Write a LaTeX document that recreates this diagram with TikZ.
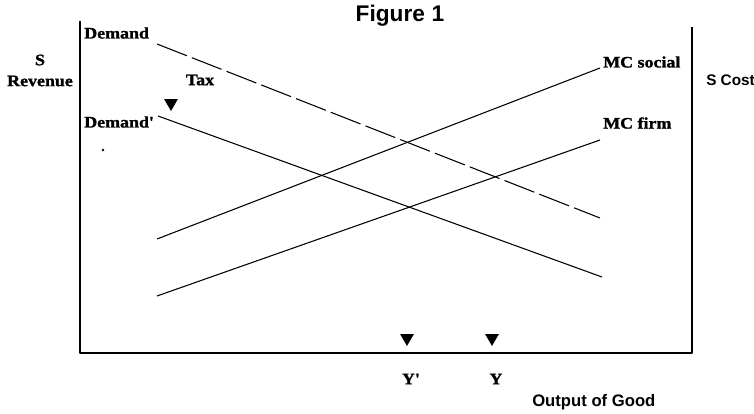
\documentclass[tikz,border=0pt]{standalone}
\usepackage{fontspec}
\setmainfont{Liberation Serif}
\newfontfamily\scanfont{Liberation Serif}[FakeStretch=1.12, BoldFeatures={FakeBold=1.3}]
\newfontfamily\headfont{Liberation Sans}
\usetikzlibrary{shapes.geometric}

\begin{document}
\begin{tikzpicture}[
  x=0.75pt, y=-0.75pt,
  lbl/.style={inner sep=0pt, font=\scanfont\bfseries\fontsize{12}{14}\selectfont},
  head/.style={inner sep=0pt, font=\headfont\bfseries\fontsize{12.5}{15}\selectfont},
  axis/.style={line width=2pt, line join=round},
  curve/.style={line width=0.8pt},
  marker/.style={regular polygon, regular polygon sides=3, shape border rotate=180, fill=black, inner sep=0pt, minimum size=12pt}
]
\useasboundingbox (0,0) rectangle (754,414);
\coordinate (lt) at (80,21);
\coordinate (o) at (80,353);
\coordinate (rb) at (692,353);
\coordinate (rt) at (692,27);
\draw[axis] (lt) -- (o) -- (rb) -- (rt);

\coordinate (dA) at (157,44);
\coordinate (dB) at (600,218);
\coordinate (tA) at (158,116);
\coordinate (tB) at (602,277);
\coordinate (sA) at (157,239);
\coordinate (sB) at (600,68);
\coordinate (fA) at (157,296);
\coordinate (fB) at (600,140);
\draw[curve, dash pattern=on 24pt off 4pt] (dA) -- (dB);
\draw[curve] (tA) -- (tB);
\draw[curve] (sA) -- (sB);
\draw[curve] (fA) -- (fB);

\node[head, font=\headfont\bfseries\fontsize{17}{19}\selectfont] (title) at (400,16) {Figure\hspace{5pt}1};
\node[lbl] (dollar) at (40,60) {S};
\node[lbl] (rev) at (40,81) {Revenue};
\node[lbl, anchor=west] (dem) at (84,33) {Demand};
\node[lbl, anchor=west] (demtax) at (84,122) {Demand'};
\node[lbl] (tax) at (200,80) {Tax};
\node[marker] (taxmk) at (171,103) {};
\node[circle, fill, inner sep=0pt, minimum size=2pt] (dot) at (103,150) {};
\node[lbl, anchor=west] (mcs) at (603,62) {MC social};
\node[lbl, anchor=west] (mcf) at (603,123) {MC firm};
\node[head, font=\headfont\bfseries\fontsize{11.5}{13}\selectfont, anchor=west] (cost) at (706,80) {S Cost};
\node[marker] (ypmk) at (407,338) {};
\node[marker] (ymk) at (492,338) {};
\node[lbl] (yp) at (411,379) {Y'};
\node[lbl] (y) at (496,379) {Y};
\node[head, anchor=west] (out) at (532,402) {Output of Good};
\end{tikzpicture}
\end{document}
